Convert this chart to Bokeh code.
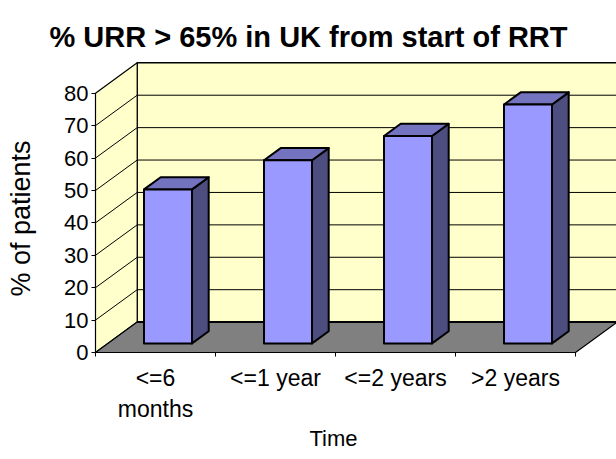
import math
from bokeh.plotting import figure
from bokeh.models import FixedTicker, Label, Range1d
from bokeh.embed import file_html
from bokeh.resources import INLINE

# ---------------- data ----------------
categories = ["<=6\nmonths", "<=1 year", "<=2 years", ">2 years"]
values = [47.5, 56.5, 64.0, 73.7]
y_ticks = [0, 10, 20, 30, 40, 50, 60, 70, 80]
title_text = "% URR > 65% in UK from start of RRT"
x_title = "Time"
y_title = "% of patients"

# ---------------- layout constants ----------------
W, H = 616, 459
X0, Y0 = 95, 352          # page px of category 0 / value 0 (front corner)
SX = 120.0                # px per category
SY = 259.3 / 80           # px per value unit
Y_MAX = 80
DX, DY = 41.7 / SX, 30.4 / SY   # full depth offset in data units
BAR_W = 0.4
D0, D1 = 0.3, 0.7         # bar depth span (fraction of full depth)
N = len(categories)

FONT = "Liberation Sans"
WALL = "#FFFFCC"
FLOOR = "#808080"
FRONT = "#9999FF"
TOP = "#7373BF"
SIDE = "#4D4D80"

p = figure(width=W, height=H, output_backend="svg", toolbar_location=None,
           x_range=Range1d(-X0 / SX, (W - X0) / SX),
           y_range=Range1d(-(H - Y0) / SY, Y0 / SY),
           min_border=0)
p.outline_line_color = None
p.grid.visible = False
p.background_fill_color = "white"
p.border_fill_color = "white"

# walls & floor
p.patch([DX, N + DX, N + DX, DX], [DY, DY, Y_MAX + DY, Y_MAX + DY],
        fill_color=WALL, line_color="black", line_width=1.5)
p.patch([0, 0, DX, DX], [0, Y_MAX, Y_MAX + DY, DY],
        fill_color=WALL, line_color="black", line_width=1.2)
p.patch([0, N, N + DX, DX], [0, 0, DY, DY],
        fill_color=FLOOR, line_color="black", line_width=1.2)

grid_vals = [v for v in y_ticks if 0 < v < Y_MAX]
p.multi_line([[DX, N + DX] for v in grid_vals], [[v + DY, v + DY] for v in grid_vals],
             line_color="black", line_width=1)
p.multi_line([[0, DX] for v in grid_vals], [[v, v + DY] for v in grid_vals],
             line_color="black", line_width=1)
p.line([DX, N + DX], [DY, DY], line_color="black", line_width=2)

# bars
fx, fy, sx, sy, tx, ty = [], [], [], [], [], []
for i, v in enumerate(values):
    c = i + 0.5
    xl, xr = c - BAR_W / 2, c + BAR_W / 2
    a0x, a0y = D0 * DX, D0 * DY
    a1x, a1y = D1 * DX, D1 * DY
    fx.append([xl + a0x, xr + a0x, xr + a0x, xl + a0x])
    fy.append([a0y, a0y, v + a0y, v + a0y])
    sx.append([xr + a0x, xr + a1x, xr + a1x, xr + a0x])
    sy.append([a0y, a1y, v + a1y, v + a0y])
    tx.append([xl + a0x, xr + a0x, xr + a1x, xl + a1x])
    ty.append([v + a0y, v + a0y, v + a1y, v + a1y])
p.patches(sx, sy, fill_color=SIDE, line_color="black", line_width=2, line_join="round")
p.patches(tx, ty, fill_color=TOP, line_color="black", line_width=2, line_join="round")
p.patches(fx, fy, fill_color=FRONT, line_color="black", line_width=2, line_join="round")

# axes (fixed at the front edges of the 3-D box)
ya = p.yaxis[0]
ya.fixed_location = 0
ya.ticker = FixedTicker(ticks=y_ticks)
ya.axis_line_color = None
ya.major_tick_in = 0
ya.major_tick_out = 4
ya.major_tick_line_color = "black"
ya.major_label_standoff = 3
ya.major_label_text_font = FONT
ya.major_label_text_font_size = "22px"
ya.major_label_text_color = "black"

xa = p.xaxis[0]
xa.fixed_location = 0
xa.ticker = FixedTicker(ticks=[i + 0.5 for i in range(N)], minor_ticks=list(range(N + 1)))
xa.major_label_overrides = {i + 0.5: c for i, c in enumerate(categories)}
xa.axis_line_color = None
xa.major_tick_in = 0
xa.major_tick_out = 0
xa.minor_tick_in = 0
xa.minor_tick_out = 4
xa.minor_tick_line_color = "black"
xa.major_label_standoff = 8
xa.major_label_text_font = FONT
xa.major_label_text_font_size = "23px"
xa.major_label_text_color = "black"

def dx_(px):
    return (px - X0) / SX
def dy_(py):
    return (Y0 - py) / SY

p.add_layout(Label(x=dx_(308), y=dy_(36), text=title_text, text_align="center",
                   text_baseline="alphabetic", text_font=FONT, text_font_style="bold",
                   text_font_size="29px", text_color="black"))
p.add_layout(Label(x=dx_(20), y=dy_(218), text=y_title, text_align="center",
                   text_baseline="middle", angle=math.pi / 2, text_font=FONT,
                   text_font_size="27px", text_color="black"))
p.add_layout(Label(x=dx_(333), y=dy_(438), text=x_title, text_align="center",
                   text_baseline="alphabetic", text_font=FONT,
                   text_font_size="22px", text_color="black"))

open("out.html", "w").write(file_html(p, INLINE))
